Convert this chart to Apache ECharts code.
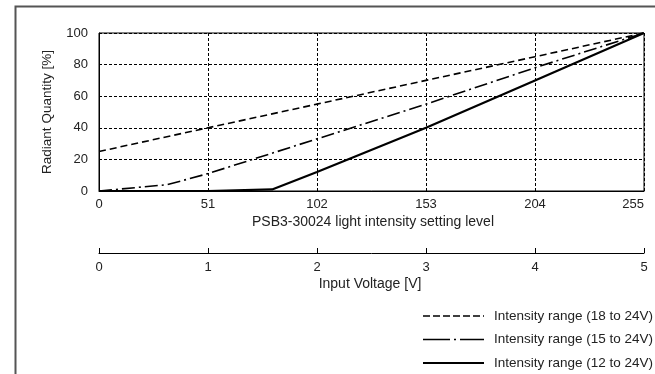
<!DOCTYPE html>
<html>
<head>
<meta charset="utf-8">
<script src="https://cdn.jsdelivr.net/npm/echarts@6/dist/echarts.min.js"></script>
<style>
  html, body { margin: 0; padding: 0; background: #fff; }
  #chart { width: 655px; height: 374px; }
</style>
</head>
<body>
<div id="chart"></div>
<script>
// setting level (0-255) vs radiant quantity [%]
const range18Levels = [0, 51, 102, 153, 204, 255];
const range18Values = [25, 40, 55, 70, 85, 100];

const range15Levels = [0, 32, 51, 102, 153, 204, 255];
const range15Values = [0, 4, 11, 33, 55, 78, 100];

const range12Levels = [0, 51, 81, 102, 153, 204, 255];
const range12Values = [0, 0, 1, 12, 40, 70, 100];

const seriesNames = [
  'Intensity range (18 to 24V)',
  'Intensity range (15 to 24V)',
  'Intensity range (12 to 24V)'
];

const levelTicks = [0, 51, 102, 153, 204, 255];
const voltTicks = [0, 1, 2, 3, 4, 5];

const font = 'Liberation Sans, Arial, sans-serif';
const textColor = '#222';

const pairs = (xs, ys) => xs.map((x, i) => [x, ys[i]]);

const chart = echarts.init(document.getElementById('chart'), null, { renderer: 'canvas' });

const option = {
  animation: false,
  textStyle: { fontFamily: font },
  grid: [
    { left: 99, top: 33, right: 11, bottom: 183, show: true, borderColor: '#000', borderWidth: 1 },
    { left: 99, top: 243, right: 11, bottom: 121 }
  ],
  xAxis: [
    {
      gridIndex: 0,
      type: 'value',
      min: levelTicks[0],
      max: levelTicks[levelTicks.length - 1],
      interval: 51,
      axisLine: { lineStyle: { color: '#000', width: 1 } },
      axisTick: { show: false },
      axisLabel: { color: textColor, fontSize: 13, margin: 7, fontFamily: font, alignMaxLabel: 'right' },
      splitLine: { lineStyle: { color: '#000', type: [3, 2], width: 1 } }
    },
    {
      gridIndex: 1,
      type: 'value',
      min: voltTicks[0],
      max: voltTicks[voltTicks.length - 1],
      interval: 1,
      axisLine: { onZero: false, lineStyle: { color: '#000', width: 1 } },
      axisTick: { show: true, inside: true, length: 5, lineStyle: { color: '#000' } },
      axisLabel: { color: textColor, fontSize: 13, margin: 8, fontFamily: font },
      splitLine: { show: false }
    }
  ],
  yAxis: [
    {
      gridIndex: 0,
      type: 'value',
      min: 0,
      max: 100,
      interval: 20,
      name: 'Radiant Quantity [%]',
      nameLocation: 'middle',
      nameGap: 45,
      nameTextStyle: { color: textColor, fontSize: 13.5, fontFamily: font },
      axisLine: { show: true, lineStyle: { color: '#000', width: 1 } },
      axisTick: { show: false },
      axisLabel: { color: textColor, fontSize: 13, margin: 11, fontFamily: font },
      splitLine: { lineStyle: { color: '#000', type: [3, 2], width: 1 } }
    },
    {
      gridIndex: 1,
      type: 'value',
      show: false,
      min: 0,
      max: 1
    }
  ],
  legend: {
    orient: 'vertical',
    left: 422,
    top: 309,
    padding: 0,
    itemWidth: 61,
    itemHeight: 14,
    itemGap: 9.5,
    itemStyle: { opacity: 0 },
    textStyle: { color: textColor, fontSize: 13.5, fontFamily: font, padding: [0, 0, 0, 5] },
    data: [
      { name: seriesNames[0], lineStyle: { type: [7, 3], width: 1.6 } },
      { name: seriesNames[1], lineStyle: { type: [27, 4, 2, 4], width: 1.6 } },
      { name: seriesNames[2], lineStyle: { type: 'solid', width: 2 } }
    ]
  },
  graphic: [
    {
      type: 'polyline',
      shape: { points: [[15.5, 374], [15.5, 6.5], [655, 6.5]] },
      style: { stroke: '#555', lineWidth: 2, fill: null },
      silent: true
    },
    {
      type: 'text',
      x: 373,
      y: 222,
      style: {
        text: 'PSB3-30024 light intensity setting level',
        fill: textColor,
        font: '14px ' + font,
        textAlign: 'center',
        textVerticalAlign: 'middle'
      }
    },
    {
      type: 'text',
      x: 370,
      y: 284,
      style: {
        text: 'Input Voltage [V]',
        fill: textColor,
        font: '14px ' + font,
        textAlign: 'center',
        textVerticalAlign: 'middle'
      }
    }
  ],
  series: [
    {
      name: seriesNames[0],
      type: 'line',
      xAxisIndex: 0,
      yAxisIndex: 0,
      data: pairs(range18Levels, range18Values),
      symbol: 'none',
      clip: false,
      lineStyle: { color: '#000', width: 1.6, type: [7, 4] },
      itemStyle: { color: '#000' }
    },
    {
      name: seriesNames[1],
      type: 'line',
      xAxisIndex: 0,
      yAxisIndex: 0,
      data: pairs(range15Levels, range15Values),
      symbol: 'none',
      clip: false,
      lineStyle: { color: '#000', width: 1.6, type: [13, 4, 2, 4] },
      itemStyle: { color: '#000' }
    },
    {
      name: seriesNames[2],
      type: 'line',
      xAxisIndex: 0,
      yAxisIndex: 0,
      data: pairs(range12Levels, range12Values),
      symbol: 'none',
      clip: false,
      lineStyle: { color: '#000', width: 2.2, type: 'solid' },
      itemStyle: { color: '#000' }
    }
  ]
};

chart.setOption(option);
</script>
</body>
</html>
